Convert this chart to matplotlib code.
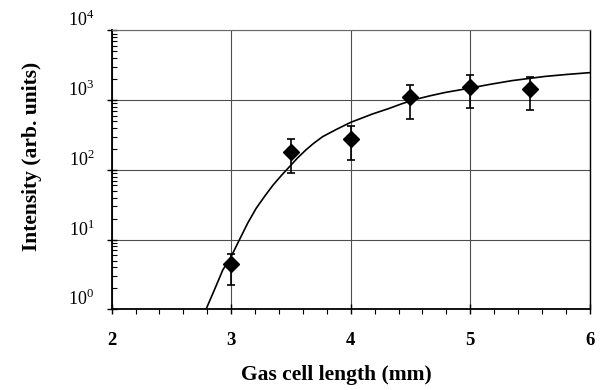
import matplotlib
matplotlib.use("Agg")
import matplotlib.pyplot as plt
from matplotlib.ticker import LogLocator, MultipleLocator, NullFormatter

plt.rcParams['font.family'] = ['Liberation Serif', 'DejaVu Serif']
plt.rcParams['mathtext.fontset'] = 'custom'
plt.rcParams['mathtext.rm'] = 'Liberation Serif'

# measured data
length_mm = [3.0, 3.5, 4.0, 4.5, 5.0, 5.5]
intensity = [4.4, 182, 280, 1120, 1560, 1430]
err_low = [2.2, 91, 140, 540, 775, 720]
err_high = [6.3, 278, 428, 1650, 2280, 2170]

# fitted curve
fit_x = [2.76, 2.79, 2.86, 2.93, 3.0, 3.07, 3.14, 3.21, 3.28, 3.35, 3.42, 3.49,
         3.555, 3.625, 3.69, 3.765, 3.88, 4.0, 4.09, 4.18, 4.32, 4.43, 4.54,
         4.66, 4.79, 4.99, 5.17, 5.35, 5.625, 5.8, 6.0]
fit_y = [0.85, 1.0, 1.9, 3.66, 5.7, 10.0, 17.4, 28.2, 41.7, 60.3, 83, 112,
         148, 193, 240, 299, 380, 480, 550, 631, 759, 890, 1023,
         1150, 1288, 1479, 1690, 1905, 2188, 2330, 2480]

xticks = [2, 3, 4, 5, 6]
yticks = [1, 10, 100, 1000, 10000]
ytick_labels = [r'$10^{0}$', r'$10^{1}$', r'$10^{2}$', r'$10^{3}$', r'$10^{4}$']

fig = plt.figure(figsize=(6.0, 3.9), dpi=100)
ax = fig.add_axes([0.186, 0.207, 0.797, 0.715])

ax.plot(fit_x, fit_y, color='black', lw=1.2, zorder=3)

yerr = [[v - lo for v, lo in zip(intensity, err_low)],
        [hi - v for v, hi in zip(intensity, err_high)]]
ax.errorbar(length_mm, intensity, yerr=yerr, fmt='D', color='black',
            markersize=8.5, ecolor='black', elinewidth=1.2, capsize=3,
            capthick=1.2, zorder=4)

ax.set_yscale('log')
ax.set_xlim(2, 6)
ax.set_ylim(1, 10000)

ax.set_xticks(xticks)
ax.set_xticklabels([str(t) for t in xticks], fontweight='bold', fontsize=13.5)
ax.xaxis.set_minor_locator(MultipleLocator(0.2))
ax.tick_params(axis='x', which='major', direction='inout', length=7, width=1, pad=13)
ax.tick_params(axis='x', which='minor', direction='out', length=3.5, width=0.8)

ax.set_yticks(yticks)
ax.set_yticklabels(ytick_labels, fontsize=13)
ax.yaxis.set_minor_locator(LogLocator(base=10, subs=range(2, 10)))
ax.yaxis.set_minor_formatter(NullFormatter())
ax.tick_params(axis='y', which='major', direction='inout', length=7, width=1, pad=9)
ax.tick_params(axis='y', which='minor', direction='in', length=3.5, width=0.8)
for lab in ax.get_yticklabels():
    lab.set_verticalalignment('bottom')

ax.grid(True, which='major', color='0.3', lw=0.8)

for side in ['left', 'bottom']:
    ax.spines[side].set_linewidth(1.3)
ax.spines['top'].set_color('0.4')
ax.spines['top'].set_linewidth(0.8)
ax.spines['right'].set_linewidth(1.0)

ax.set_xlabel('Gas cell length (mm)', fontsize=15.5, fontweight='bold')
ax.xaxis.set_label_coords(0.471, -0.20)
ax.set_ylabel('Intensity (arb. units)', fontsize=15.5, fontweight='bold')
ax.yaxis.set_label_coords(-0.145, 0.55)

fig.savefig('out.png', dpi=100)
